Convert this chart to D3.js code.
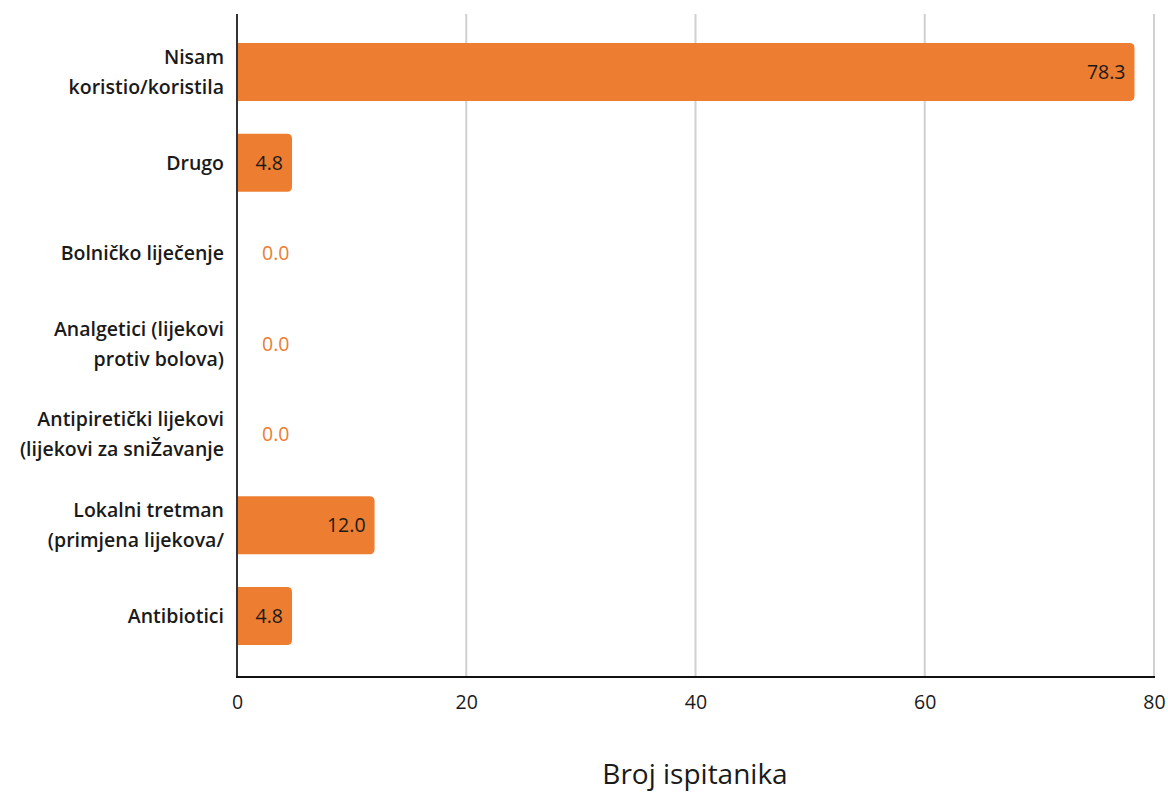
<!DOCTYPE html>
<html>
<head>
<meta charset="utf-8">
<script src="https://cdn.jsdelivr.net/npm/d3@7"></script>
<style>
  html, body { margin: 0; padding: 0; background: #fff; }
  svg { display: block; }
  text { font-family: "Open Sans", "Noto Sans", sans-serif; }
</style>
</head>
<body>
<svg id="chart" width="1168" height="795"></svg>
<script>
// Category labels (line-broken as displayed), top to bottom
const categories = [
  ["Nisam", "koristio/koristila"],
  ["Drugo"],
  ["Bolničko liječenje"],
  ["Analgetici (lijekovi", "protiv bolova)"],
  ["Antipiretički lijekovi", "(lijekovi za sniŽavanje"],
  ["Lokalni tretman", "(primjena lijekova/"],
  ["Antibiotici"]
];
const values = [78.3, 4.8, 0.0, 0.0, 0.0, 12.0, 4.8];
const xTicks = [0, 20, 40, 60, 80];
const xTitle = "Broj ispitanika";

const svg = d3.select("#chart");
const plotLeft = 237, plotRight = 1154, plotTop = 14, plotBottom = 677;

const x = d3.scaleLinear().domain([0, 80]).range([plotLeft, plotRight]);
const y = d3.scaleBand()
  .domain(d3.range(categories.length))
  .range([26.7, 661.3])
  .paddingInner(0.36)
  .paddingOuter(0.18);

const rows = values.map((v, i) => ({ v, i }));

// vertical gridlines
svg.append("g")
  .selectAll("line")
  .data(xTicks.filter(d => d > 0))
  .join("line")
  .attr("x1", d => x(d)).attr("x2", d => x(d))
  .attr("y1", plotTop).attr("y2", plotBottom)
  .attr("stroke", "#d0d0d0").attr("stroke-width", 2);

// bars: square at the baseline, rounded at the end
const r = 5;
function barPath(v, i) {
  const x0 = x(0), x1 = x(v), y0 = y(i), h = y.bandwidth();
  const rr = Math.min(r, (x1 - x0));
  return `M${x0},${y0} H${x1 - rr} Q${x1},${y0} ${x1},${y0 + rr} V${y0 + h - rr} Q${x1},${y0 + h} ${x1 - rr},${y0 + h} H${x0} Z`;
}
svg.append("g")
  .selectAll("path")
  .data(rows.filter(d => d.v > 0))
  .join("path")
  .attr("d", d => barPath(d.v, d.i))
  .attr("fill", "#ED7D31");

// value labels
svg.append("g")
  .selectAll("text")
  .data(rows)
  .join("text")
  .attr("x", d => d.v > 0 ? x(d.v) - 9 : x(0) + 25)
  .attr("y", d => y(d.i) + y.bandwidth() / 2)
  .attr("dy", "0.35em")
  .attr("text-anchor", d => d.v > 0 ? "end" : "start")
  .attr("font-size", 19.5)
  .attr("fill", d => d.v > 0 ? "#1a1a1a" : "#ED7D31")
  .text(d => d.v.toFixed(1));

// category labels
const lineH = 30;
const cat = svg.append("g")
  .selectAll("text")
  .data(categories)
  .join("text")
  .attr("text-anchor", "end")
  .attr("font-size", 19.5)
  .attr("font-weight", 600)
  .attr("fill", "#1a1a1a");
cat.each(function (lines, i) {
  const cy = y(i) + y.bandwidth() / 2;
  const start = cy - (lines.length - 1) * lineH / 2;
  d3.select(this).selectAll("tspan")
    .data(lines)
    .join("tspan")
    .attr("x", 224)
    .attr("y", (d, j) => start + j * lineH)
    .attr("dy", "0.35em")
    .text(d => d);
});

// axes lines
svg.append("line")
  .attr("x1", plotLeft).attr("x2", plotLeft)
  .attr("y1", plotTop).attr("y2", plotBottom + 1)
  .attr("stroke", "#333").attr("stroke-width", 2);
svg.append("line")
  .attr("x1", plotLeft - 1).attr("x2", plotRight + 1)
  .attr("y1", plotBottom).attr("y2", plotBottom)
  .attr("stroke", "#111").attr("stroke-width", 2);

// x tick labels
const xAxis = svg.append("g")
  .attr("transform", `translate(0,${plotBottom})`)
  .call(d3.axisBottom(x).tickValues(xTicks).tickSize(0).tickPadding(18));
xAxis.select(".domain").remove();
xAxis.selectAll("text")
  .attr("font-size", 19.5)
  .attr("fill", "#1a1a1a")
  .style("font-family", "\"Open Sans\", \"Noto Sans\", sans-serif");

// axis title
svg.append("text")
  .attr("x", 695).attr("y", 784)
  .attr("text-anchor", "middle")
  .attr("font-size", 28)
  .attr("fill", "#1a1a1a")
  .text(xTitle);
</script>
</body>
</html>
